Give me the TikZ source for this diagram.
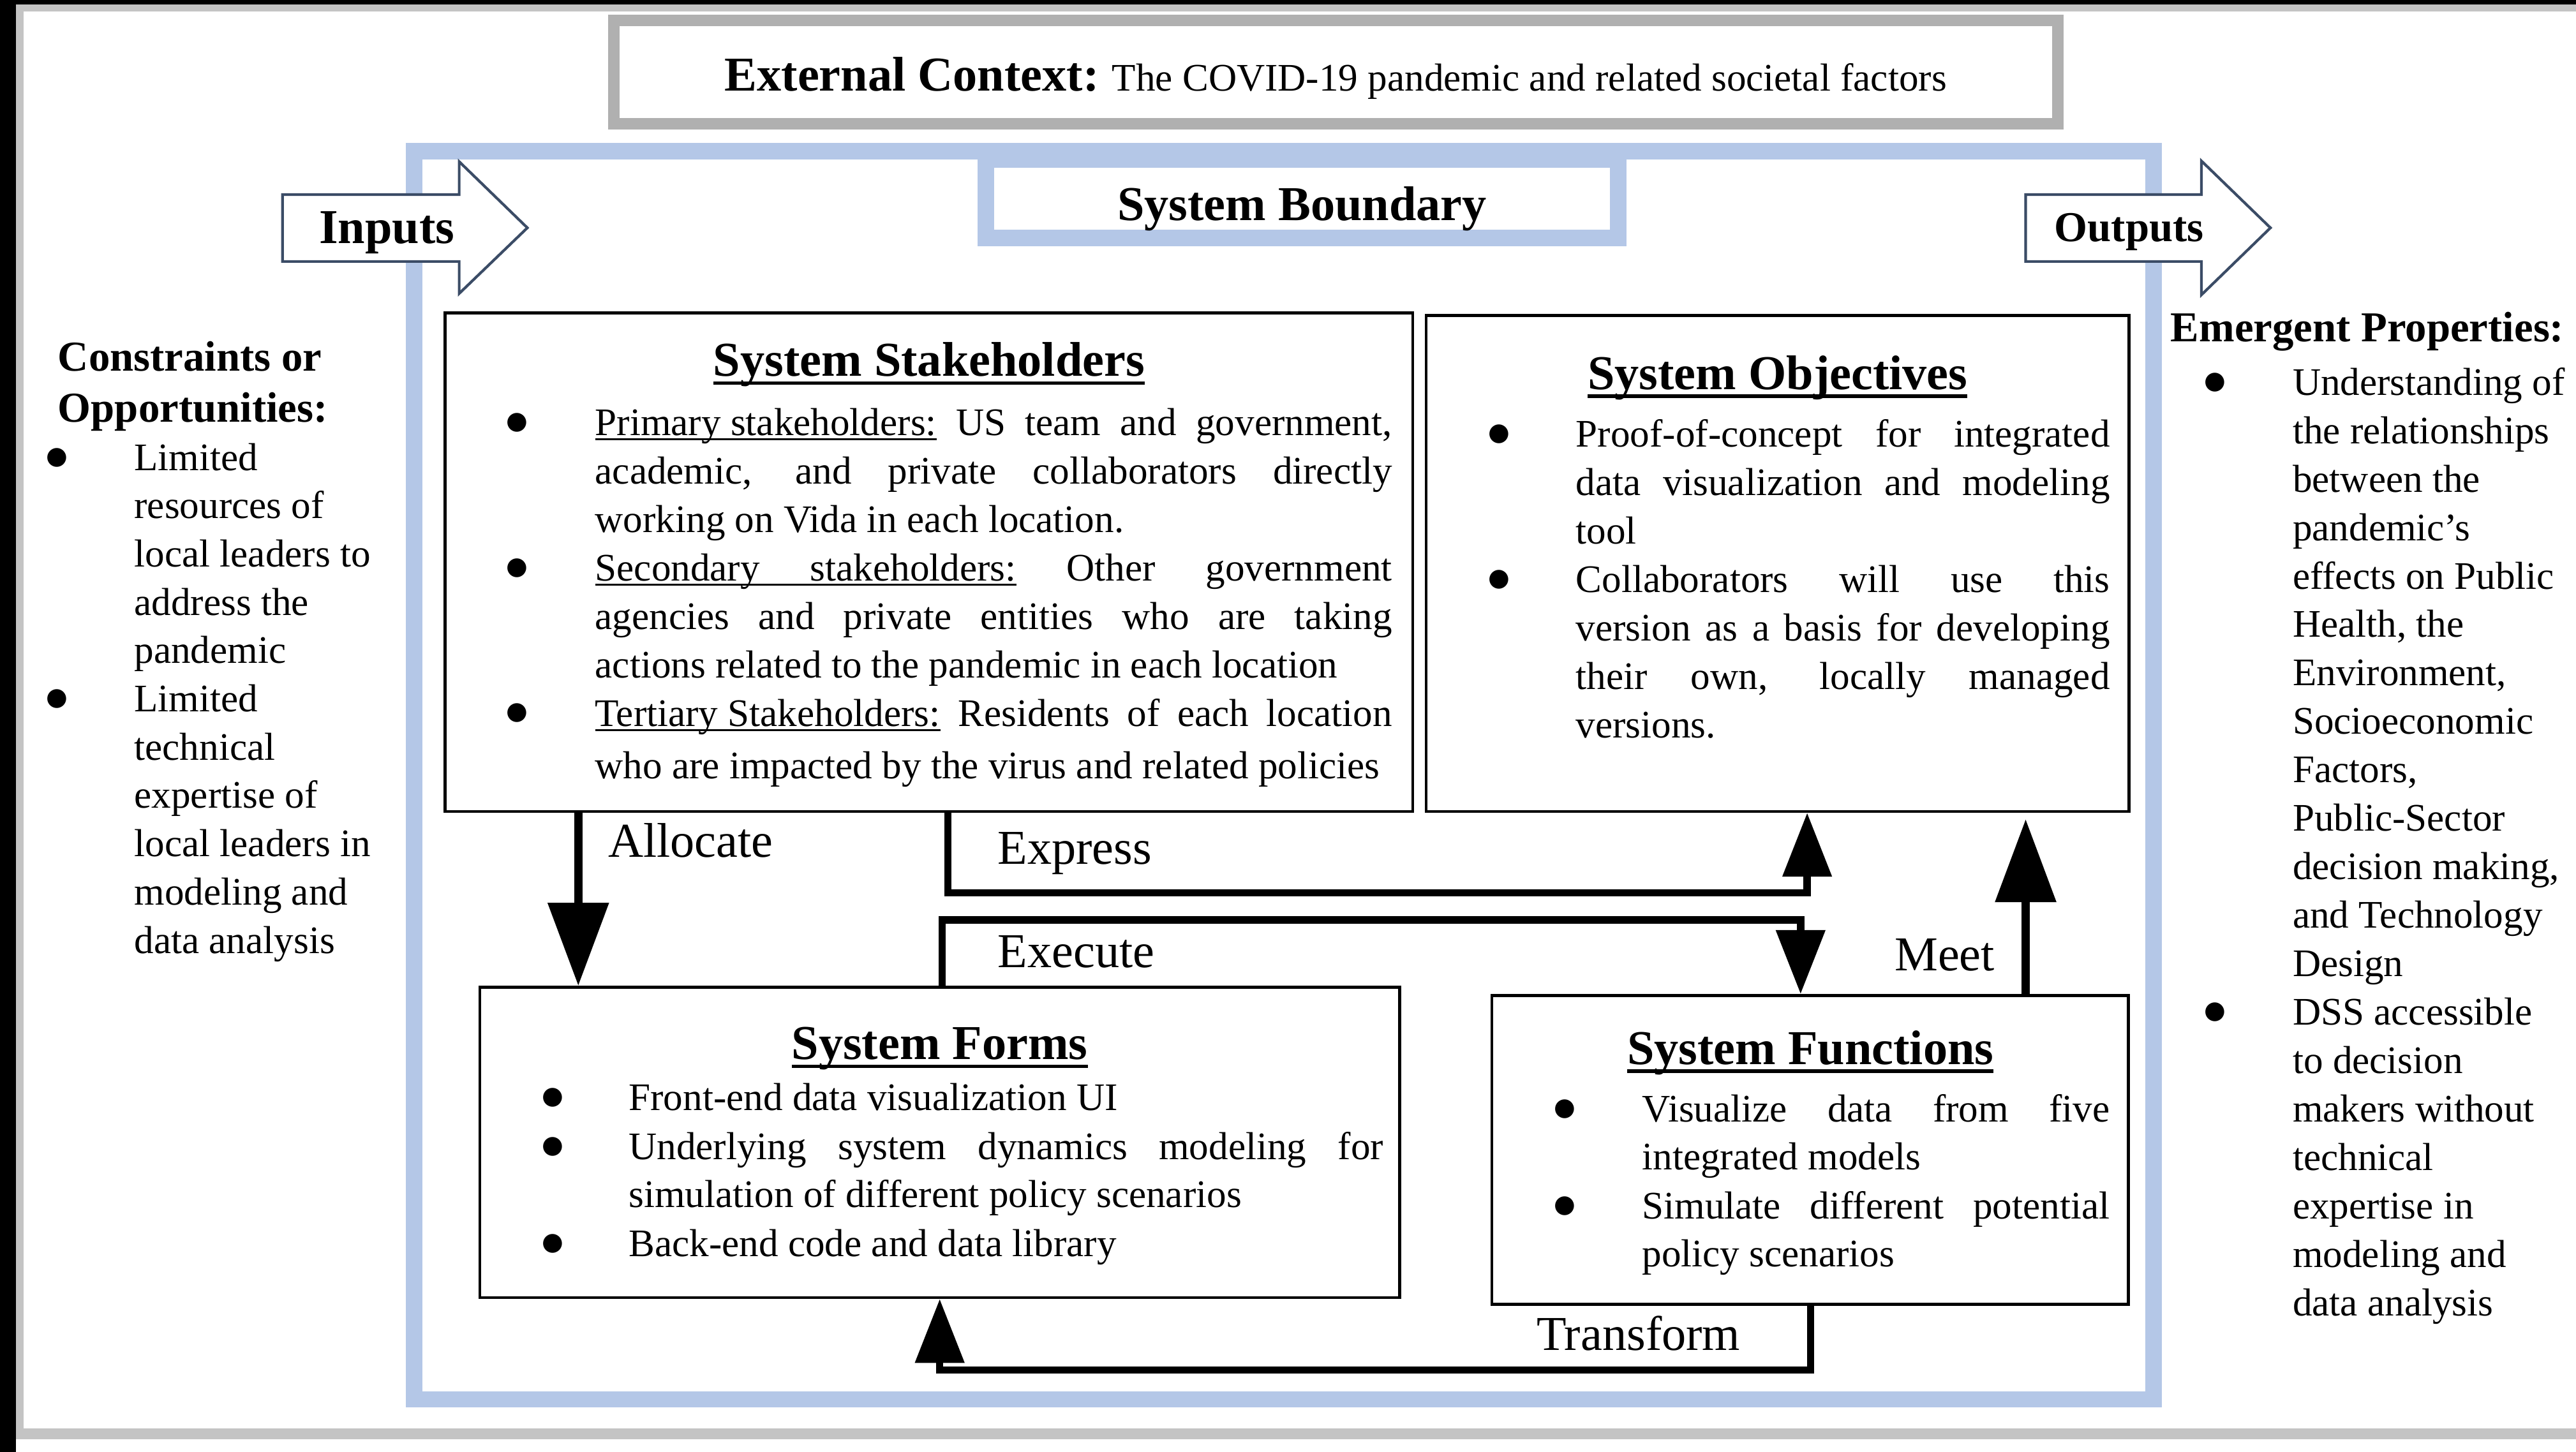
\documentclass[tikz,border=0pt]{standalone}
\usepackage{fontspec}
\setmainfont{Liberation Serif}
\newfontfamily\symfont{DejaVu Sans}
\usetikzlibrary{arrows.meta,fit}
\definecolor{sbblue}{RGB}{180,199,231}
\definecolor{ctxgray}{RGB}{176,176,176}
\definecolor{arrline}{RGB}{59,76,102}
\definecolor{bandgray}{RGB}{196,196,196}
\newlength\wS \setlength\wS{12.487cm}
\newlength\wO \setlength\wO{8.367cm}
\newlength\wF \setlength\wF{11.823cm}
\newlength\wU \setlength\wU{7.325cm}
\newcommand\bodyfont{\fontsize{17.4pt}{21.7pt}\selectfont}
\newcommand\headfont{\fontsize{21.7pt}{26pt}\selectfont\bfseries}
\newcommand\sidefont{\fontsize{19pt}{23pt}\selectfont\bfseries}
\newcommand\lblfont{\fontsize{21.7pt}{26pt}\selectfont}
\newcommand\bulfont{\symfont\fontsize{11pt}{12pt}\selectfont}
\newcommand\ulb[1]{\setbox0=\hbox{#1}\rlap{\vrule height -1.4pt depth 2.3pt width \wd0}\box0\relax}
\newcommand\ulh[1]{\setbox0=\hbox{#1}\rlap{\vrule height -2.3pt depth 3.9pt width \wd0}\box0\relax}
\newcommand\J[2]{\makebox[#1][s]{#2}}
\newcounter{tl}
\newcommand\tline[3]{\stepcounter{tl}\node[txt] (tl\arabic{tl}) at (#1,#2) {#3};}
\newcommand\tbul[2]{\stepcounter{tl}\node[bul] (bu\arabic{tl}) at (#1,{#2-7.8}) {●};}
\begin{document}
\begin{tikzpicture}[x=0.025746cm,y=-0.025746cm,
  box/.style={draw=black, line width=1.3pt, fill=white, inner sep=0pt},
  txt/.style={anchor=base west, inner sep=0pt, font=\bodyfont},
  bul/.style={anchor=center, inner sep=0pt, font=\bulfont},
  head/.style={anchor=base, inner sep=0pt, font=\headfont},
  side/.style={anchor=base west, inner sep=0pt, font=\sidefont},
  lbl/.style={anchor=base west, inner sep=0pt, font=\lblfont},
  bigarrow/.style={line width=0.13cm, -{Triangle[width=0.93cm,length=1.3cm]}},
  smallarrow/.style={line width=0.115cm, -{Triangle[width=0.75cm,length=1.0cm]}},
  blockarrow/.style={draw=arrline, line width=1.2pt, fill=white, line join=miter},
]
\useasboundingbox (0,0) rectangle (1568,884);
\fill[white] (0,0) rectangle (1568,884);
% window chrome
\fill[bandgray] (9.7,2.7) rectangle (1568,7);
\fill[bandgray] (9.7,2.7) rectangle (14.4,876.3);
\fill[bandgray] (9.7,869.7) rectangle (1568,876.3);
\fill[black] (0,0) rectangle (9.7,884);
\fill[black] (0,0) rectangle (1568,2.7);

% external context
\draw[ctxgray, line width=0.18cm] (373.5,12.5) rectangle (1252.5,75.5);
\node[anchor=base, inner sep=0pt, font=\bodyfont] (ext) at (813,55.5) {{\headfont External Context:} The COVID-19 pandemic and related societal factors};

% system boundary frame
\draw[sbblue, line width=0.2575cm] (252,92) rectangle (1311,852);
\draw[sbblue, line width=0.2575cm, fill=white] (600,97) rectangle (985,145);
\node[head] (sblabel) at (792.5,134) {System Boundary};

% inputs / outputs block arrows
\draw[blockarrow] (172,118.5) -- (279.5,118.5) -- (279.5,98.4) -- (321,138.7) -- (279.5,178.7) -- (279.5,159.2) -- (172,159.2) -- cycle;
\node[anchor=base, inner sep=0pt, font=\headfont] (inputs) at (235.5,148) {Inputs};
\draw[blockarrow] (1233,118.5) -- (1340,118.5) -- (1340,98) -- (1382,138.7) -- (1340,179.5) -- (1340,159.2) -- (1233,159.2) -- cycle;
\node[anchor=base, inner sep=0pt, font=\sidefont] (outputs) at (1296,147) {Outputs};

% boxes
\node[box, fit={(271,190.5) (860,494)}] (stake) {};
\node[box, fit={(868,192) (1296,494)}] (obj) {};
\node[box, fit={(292,601) (852,790)}] (forms) {};
\node[box, fit={(908,606) (1295.5,794)}] (func) {};

% headings
\node[head] (hS) at (565.5,229) {\ulh{System Stakeholders}};
\node[head] (hO) at (1082,237) {\ulh{System Objectives}};
\node[head] (hF) at (572,645) {\ulh{System Forms}};
\node[head] (hU) at (1102,648) {\ulh{System Functions}};

% stakeholders text
\tbul{314.6}{265}
\tline{362}{265}{\J{\wS}{\ulb{Primary stakeholders:} US team and government,}}
\tline{362}{294.5}{\J{\wS}{academic, and private collaborators directly}}
\tline{362}{324}{working on Vida in each location.}
\tbul{314.6}{353.5}
\tline{362}{353.5}{\hbox to \wS{\ulb{Secondary}\leaders\vrule height -1.4pt depth 2.3pt\hskip 0pt plus 1fil\ulb{stakeholders:}\hskip 0pt plus 1fil Other\hskip 0pt plus 1fil government}}
\tline{362}{383}{\J{\wS}{agencies and private entities who are taking}}
\tline{362}{412.5}{actions related to the pandemic in each location}
\tbul{314.6}{442}
\tline{362}{442}{\J{\wS}{\ulb{Tertiary Stakeholders:} Residents of each location}}
\tline{362}{474}{who are impacted by the virus and related policies}

% objectives text
\tbul{912.5}{272}
\tline{959}{272}{\J{\wO}{Proof-of-concept for integrated}}
\tline{959}{301.5}{\J{\wO}{data visualization and modeling}}
\tline{959}{331}{tool}
\tbul{912.5}{360.5}
\tline{959}{360.5}{\J{\wO}{Collaborators will use this}}
\tline{959}{390}{\J{\wO}{version as a basis for developing}}
\tline{959}{419.5}{\J{\wO}{their own, locally managed}}
\tline{959}{449}{versions.}

% forms text
\tbul{336.4}{676}
\tline{382.5}{676}{Front-end data visualization UI}
\tbul{336.4}{706}
\tline{382.5}{706}{\J{\wF}{Underlying system dynamics modeling for}}
\tline{382.5}{735}{simulation of different policy scenarios}
\tbul{336.4}{765}
\tline{382.5}{765}{Back-end code and data library}

% functions text
\tbul{952.4}{683}
\tline{999.3}{683}{\J{\wU}{Visualize data from five}}
\tline{999.3}{712}{integrated models}
\tbul{952.4}{742}
\tline{999.3}{742}{\J{\wU}{Simulate different potential}}
\tline{999.3}{771}{policy scenarios}

% connectors
\coordinate (cA) at (352,0);
\draw[bigarrow] (cA |- stake.south) -- (cA |- forms.north);
\coordinate (cE1) at (577,543.5);
\coordinate (cE2) at (1100,543.5);
\draw[smallarrow] (cE1 |- stake.south) -- (cE1) -- (cE2) -- (cE2 |- obj.south);
\coordinate (cX1) at (573.5,560);
\coordinate (cX2) at (1096,560);
\draw[smallarrow] (cX1 |- forms.north) -- (cX1) -- (cX2) -- (cX2 |- func.north);
\coordinate (cM) at (1233,0);
\draw[bigarrow, shorten >=0.1cm] (cM |- func.north) -- (cM |- obj.south);
\coordinate (cT1) at (1102,834);
\coordinate (cT2) at (572,834);
\draw[smallarrow] (cT1 |- func.south) -- (cT1) -- (cT2) -- (cT2 |- forms.south);

% connector labels
\node[lbl] (lAlloc) at (370,522) {Allocate};
\node[lbl] (lExpr) at (607,526) {Express};
\node[lbl] (lExec) at (607,589) {Execute};
\node[lbl] (lMeet) at (1153,591) {Meet};
\node[lbl] (lTrans) at (935,822) {Transform};

% constraints (left)
\node[side] (cons1) at (35,226) {Constraints or};
\node[side] (cons2) at (35,257) {Opportunities:};
\tbul{34.7}{286.3}
\tbul{34.7}{433.3}
\foreach \t [count=\i from 0] in {{Limited},{resources of},{local leaders to},{address the},{pandemic},{Limited},{technical},{expertise of},{local leaders in},{modeling and},{data analysis}}
  {\node[txt] (co\i) at (81.5,{286.3+29.4*\i}) {\t};}

% emergent properties (right)
\node[side] (emerg) at (1321,208) {Emergent Properties:};
\tbul{1348.4}{240.5}
\tbul{1348.4}{624}
\foreach \t [count=\i from 0] in {{Understanding of},{the relationships},{between the},{pandemic’s},{effects on Public},{Health, the},{Environment,},{Socioeconomic},{Factors,},{Public-Sector},{decision making,},{and Technology},{Design},{DSS accessible},{to decision},{makers without},{technical},{expertise in},{modeling and},{data analysis}}
  {\node[txt] (em\i) at (1395.3,{240.5+29.5*\i}) {\t};}
\end{tikzpicture}
\end{document}
